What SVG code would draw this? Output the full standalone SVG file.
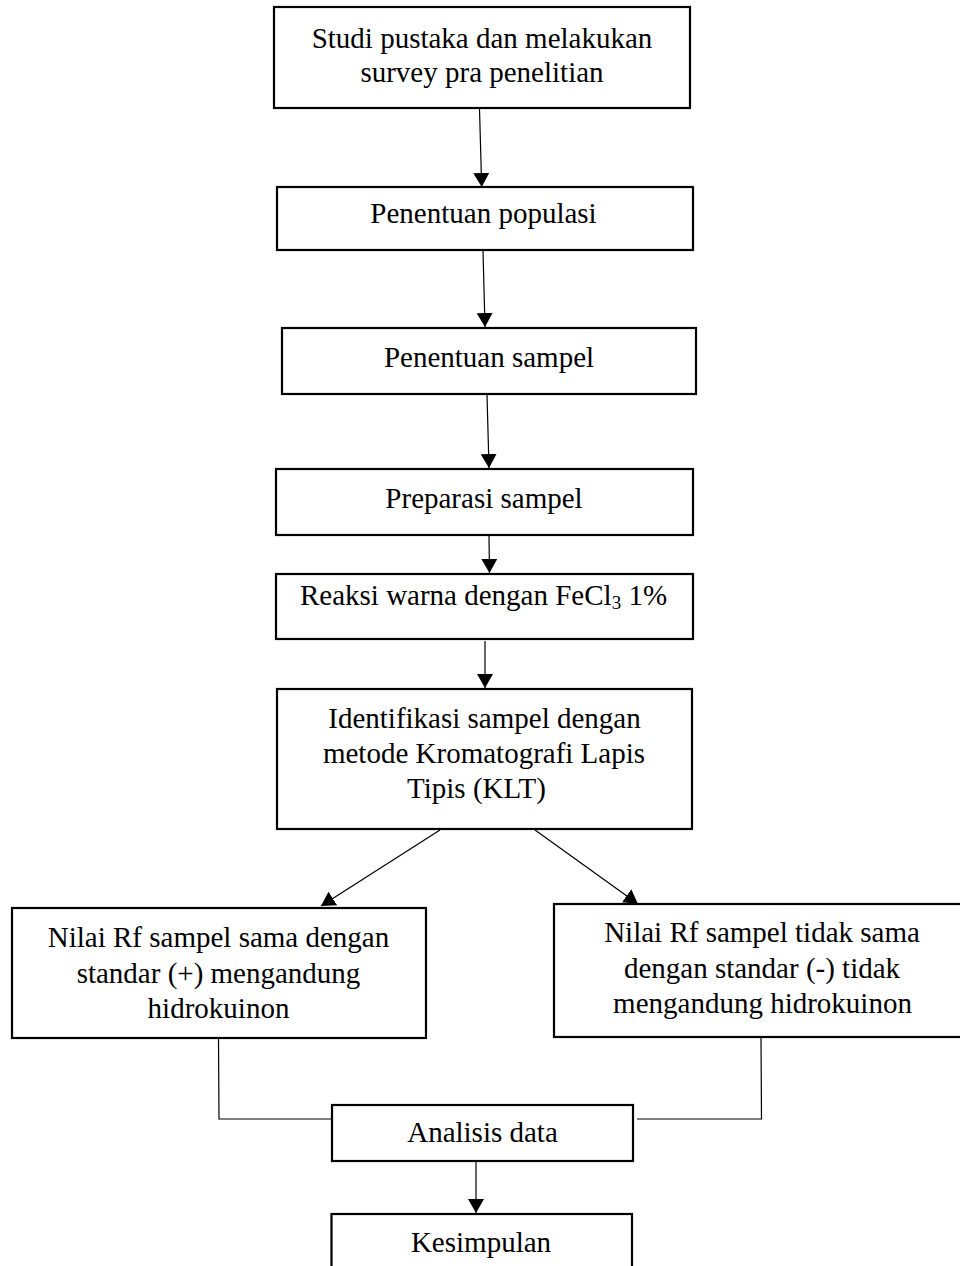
<svg xmlns="http://www.w3.org/2000/svg" width="960" height="1266" viewBox="0 0 960 1266">
<style>
.box{fill:#fff;stroke:#000;stroke-width:2.2}
.t{font-family:"Liberation Serif","Times New Roman",serif;font-size:29px;fill:#000;text-anchor:middle}
.c{fill:none;stroke:#000;stroke-width:1.2}
.a{marker-end:url(#arr)}
</style>
<defs>
<marker id="arr" markerUnits="userSpaceOnUse" markerWidth="16" markerHeight="16" refX="14" refY="8" orient="auto" viewBox="0 0 16 16">
<path d="M0,0 L14,8 L0,16 z" fill="#000"/>
</marker>
</defs>
<rect width="960" height="1266" fill="#fff"/>
<g id="connectors">
<line class="c a" x1="479.5" y1="109" x2="481.7" y2="187"/>
<line class="c a" x1="483" y1="251" x2="485" y2="327"/>
<line class="c a" x1="487" y1="395" x2="489" y2="468"/>
<line class="c a" x1="489" y1="536" x2="489.5" y2="573"/>
<line class="c a" x1="485" y1="641" x2="485" y2="688"/>
<line class="c a" x1="440" y1="830" x2="321" y2="906"/>
<line class="c a" x1="535" y1="830" x2="638" y2="904"/>
<polyline class="c" points="218.5,1038 219,1119 332,1119"/>
<polyline class="c" points="761,1038 761.5,1119 637,1119"/>
<line class="c a" x1="476" y1="1161" x2="476" y2="1213"/>
</g>
<g id="n1"><rect class="box" x="274" y="7" width="416" height="101"/>
<text class="t" x="482" y="48">Studi pustaka dan melakukan</text>
<text class="t" x="482" y="81.5">survey pra penelitian</text></g>
<g id="n2"><rect class="box" x="277" y="187" width="416" height="63"/>
<text class="t" x="483.5" y="223">Penentuan populasi</text></g>
<g id="n3"><rect class="box" x="282" y="328" width="414" height="66"/>
<text class="t" x="489" y="367">Penentuan sampel</text></g>
<g id="n4"><rect class="box" x="276" y="469" width="417" height="66"/>
<text class="t" x="484" y="508">Preparasi sampel</text></g>
<g id="n5"><rect class="box" x="276" y="574" width="417" height="65"/>
<text class="t" x="483.5" y="605">Reaksi warna dengan FeCl<tspan font-size="19" dy="4">3</tspan><tspan dy="-4"> 1%</tspan></text></g>
<g id="n6"><rect class="box" x="277" y="689" width="415" height="140"/>
<text class="t" x="484.5" y="728">Identifikasi sampel dengan</text>
<text class="t" x="484" y="763">metode Kromatografi Lapis</text>
<text class="t" x="476.5" y="798">Tipis (KLT)</text></g>
<g id="n7"><rect class="box" x="12" y="908" width="414" height="130"/>
<text class="t" x="218.5" y="947">Nilai Rf sampel sama dengan</text>
<text class="t" x="218.5" y="983">standar (+) mengandung</text>
<text class="t" x="218.5" y="1018">hidrokuinon</text></g>
<g id="n8"><rect class="box" x="554" y="904" width="416" height="133"/>
<text class="t" x="762" y="942">Nilai Rf sampel tidak sama</text>
<text class="t" x="762" y="978">dengan standar (-) tidak</text>
<text class="t" x="762.5" y="1013">mengandung hidrokuinon</text></g>
<g id="n9"><rect class="box" x="332" y="1105" width="301" height="56"/>
<text class="t" x="482.5" y="1142">Analisis data</text></g>
<g id="n10"><rect class="box" x="331.5" y="1214" width="300.5" height="70"/>
<text class="t" x="481" y="1252">Kesimpulan</text></g>
</svg>
